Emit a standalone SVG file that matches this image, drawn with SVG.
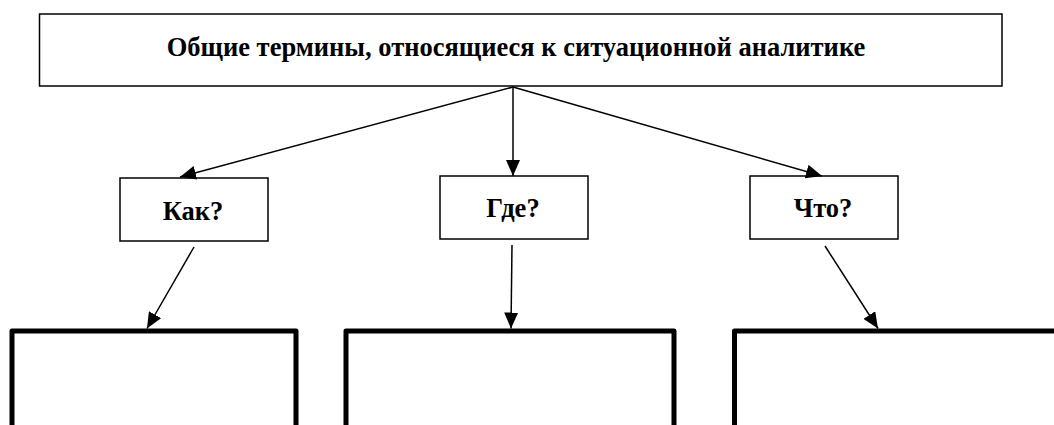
<svg xmlns="http://www.w3.org/2000/svg" width="1054" height="425" viewBox="0 0 1054 425">
  <style>
    .box { fill: #ffffff; stroke: #000000; stroke-width: 1.5; }
    .open { fill: none; stroke: #000000; stroke-width: 5; stroke-linejoin: round; }
    .label { font-family: "Liberation Serif", "Times New Roman", serif; font-weight: bold; font-size: 26.5px; fill: #000000; text-anchor: middle; }
    .link { stroke: #000000; stroke-width: 1.5; fill: none; marker-end: url(#arrow); }
  </style>
  <defs>
    <marker id="arrow" viewBox="0 0 16 14" refX="16" refY="7" markerWidth="16" markerHeight="14" markerUnits="userSpaceOnUse" orient="auto">
      <path d="M0,0 L16,7 L0,14 z" fill="#000000"/>
    </marker>
  </defs>

  <g id="root">
    <rect class="box" x="39.5" y="14" width="962.5" height="72"/>
    <text class="label" x="516" y="56">Общие термины, относящиеся к ситуационной аналитике</text>
  </g>

  <g id="how">
    <rect class="box" x="120" y="178" width="148" height="63"/>
    <text class="label" x="193" y="220">Как?</text>
  </g>

  <g id="where">
    <rect class="box" x="440" y="176" width="148" height="63"/>
    <text class="label" x="513" y="217">Где?</text>
  </g>

  <g id="what">
    <rect class="box" x="750" y="176" width="148" height="63"/>
    <text class="label" x="823" y="217">Что?</text>
  </g>

  <g id="how-detail">
    <path class="open" d="M12,430 V331 H296 V430"/>
  </g>
  <g id="where-detail">
    <path class="open" d="M346,430 V331 H674 V430"/>
  </g>
  <g id="what-detail">
    <path class="open" d="M734.5,430 V331 H1060"/>
  </g>

  <g id="connectors">
    <line class="link" x1="513" y1="87" x2="180" y2="177"/>
    <line class="link" x1="513" y1="87" x2="513" y2="176"/>
    <line class="link" x1="513" y1="87" x2="822" y2="176"/>
    <line class="link" x1="194" y1="247" x2="147" y2="328.5"/>
    <line class="link" x1="512" y1="245" x2="511" y2="328.5"/>
    <line class="link" x1="825" y1="246" x2="878" y2="328.5"/>
  </g>
</svg>
